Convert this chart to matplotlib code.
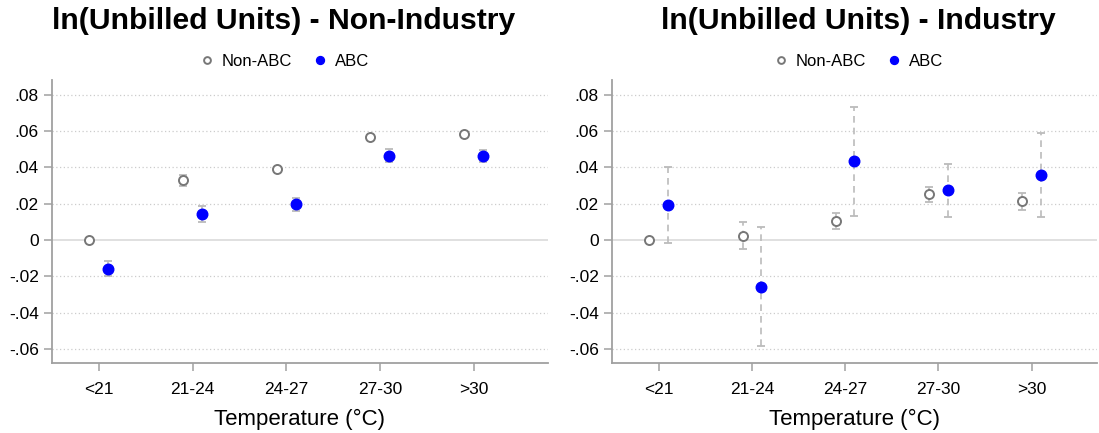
import numpy as np
import matplotlib.pyplot as plt

plt.rcParams['font.family'] = ['Liberation Sans', 'DejaVu Sans']

categories = ['<21', '21-24', '24-27', '27-30', '>30']
yticks = [-0.06, -0.04, -0.02, 0, 0.02, 0.04, 0.06, 0.08]
ytick_labels = ['-.06', '-.04', '-.02', '0', '.02', '.04', '.06', '.08']

# Non-industry panel: point estimates and 95% CI bounds
nonind_nonabc = [0.0, 0.0329, 0.0390, 0.0567, 0.0582]
nonind_nonabc_lo = [0.0, 0.0298, 0.0380, 0.0557, 0.0572]
nonind_nonabc_hi = [0.0, 0.0360, 0.0400, 0.0577, 0.0592]
nonind_abc = [-0.0157, 0.0143, 0.0196, 0.0463, 0.0461]
nonind_abc_lo = [-0.0197, 0.0099, 0.0159, 0.0428, 0.0427]
nonind_abc_hi = [-0.0117, 0.0187, 0.0233, 0.0498, 0.0495]

# Industry panel
ind_nonabc = [0.0, 0.0024, 0.0104, 0.0251, 0.0212]
ind_nonabc_lo = [0.0, -0.0051, 0.0062, 0.0209, 0.0167]
ind_nonabc_hi = [0.0, 0.0097, 0.0146, 0.0293, 0.0260]
ind_abc = [0.0192, -0.0258, 0.0432, 0.0273, 0.0357]
ind_abc_lo = [-0.0015, -0.0584, 0.0132, 0.0128, 0.0128]
ind_abc_hi = [0.0399, 0.0070, 0.0734, 0.0419, 0.0587]

GRAY = '#777777'
BLUE = '#0000ff'
CI_COLOR = '#bbbbbb'
SPINE = '#a0a0a0'

fig = plt.figure(figsize=(10.99, 4.33), dpi=100)
ax_left = fig.add_axes([52 / 1099, 1 - 363 / 433, 496 / 1099, 283 / 433])
ax_right = fig.add_axes([612 / 1099, 1 - 363 / 433, 485 / 1099, 283 / 433])


def draw_ci(ax, x, est, lo, hi):
    est = np.asarray(est)
    err = [est - np.asarray(lo), np.asarray(hi) - est]
    _, caps, bars = ax.errorbar(x, est, yerr=err, fmt='none', ecolor=CI_COLOR,
                                elinewidth=1.2, capsize=3, capthick=1.3, zorder=2)
    for b in bars:
        b.set_linestyle((0, (4, 3)))


def panel(ax, title, title_x, nonabc, nonabc_lo, nonabc_hi, abc, abc_lo, abc_hi, xmax):
    x = np.arange(1, len(categories) + 1)
    x_n = x - 0.1
    x_a = x + 0.1

    for y in yticks:
        if y == 0:
            ax.axhline(0, color='#dddddd', lw=1.3, zorder=0)
        else:
            ax.axhline(y, color='#cccccc', lw=0.9, ls=(0, (1, 2)), zorder=0)

    draw_ci(ax, x_n, nonabc, nonabc_lo, nonabc_hi)
    draw_ci(ax, x_a, abc, abc_lo, abc_hi)
    h1, = ax.plot(x_n, nonabc, 'o', mfc='white', mec=GRAY, mew=1.4, ms=6.5,
                  ls='none', zorder=3, label='Non-ABC')
    h2, = ax.plot(x_a, abc, 'o', color=BLUE, ms=7.6, ls='none', zorder=3, label='ABC')

    ax.set_xlim(0.5, xmax)
    ax.set_ylim(-0.0676, 0.088)
    ax.set_xticks(x)
    ax.set_xticklabels(categories, fontsize=12.5)
    ax.set_yticks(yticks)
    ax.set_yticklabels(ytick_labels, fontsize=12.5)
    ax.tick_params(colors=SPINE, labelcolor='black', length=6, width=1.1)
    ax.tick_params(axis='x', pad=8)
    for s in ['top', 'right']:
        ax.spines[s].set_visible(False)
    for s in ['left', 'bottom']:
        ax.spines[s].set_color(SPINE)
        ax.spines[s].set_linewidth(1.3)

    ax.set_xlabel('Temperature (°C)', fontsize=16, labelpad=8)
    fig.text(title_x / 1099, 1 - 21 / 433, title, fontsize=21.7, fontweight='bold',
             ha='center', va='center')
    fig.legend([h1, h2], ['Non-ABC', 'ABC'], loc='center',
               bbox_to_anchor=(title_x / 1099, 1 - 61 / 433), ncol=2, frameon=False,
               fontsize=12, handlelength=1.0, handletextpad=0.4, columnspacing=1.2,
               markerscale=0.75)


panel(ax_left, 'ln(Unbilled Units) - Non-Industry', 284,
      nonind_nonabc, nonind_nonabc_lo, nonind_nonabc_hi,
      nonind_abc, nonind_abc_lo, nonind_abc_hi, 5.795)
panel(ax_right, 'ln(Unbilled Units) - Industry', 858,
      ind_nonabc, ind_nonabc_lo, ind_nonabc_hi,
      ind_abc, ind_abc_lo, ind_abc_hi, 5.70)

fig.savefig('out.png', dpi=100)
